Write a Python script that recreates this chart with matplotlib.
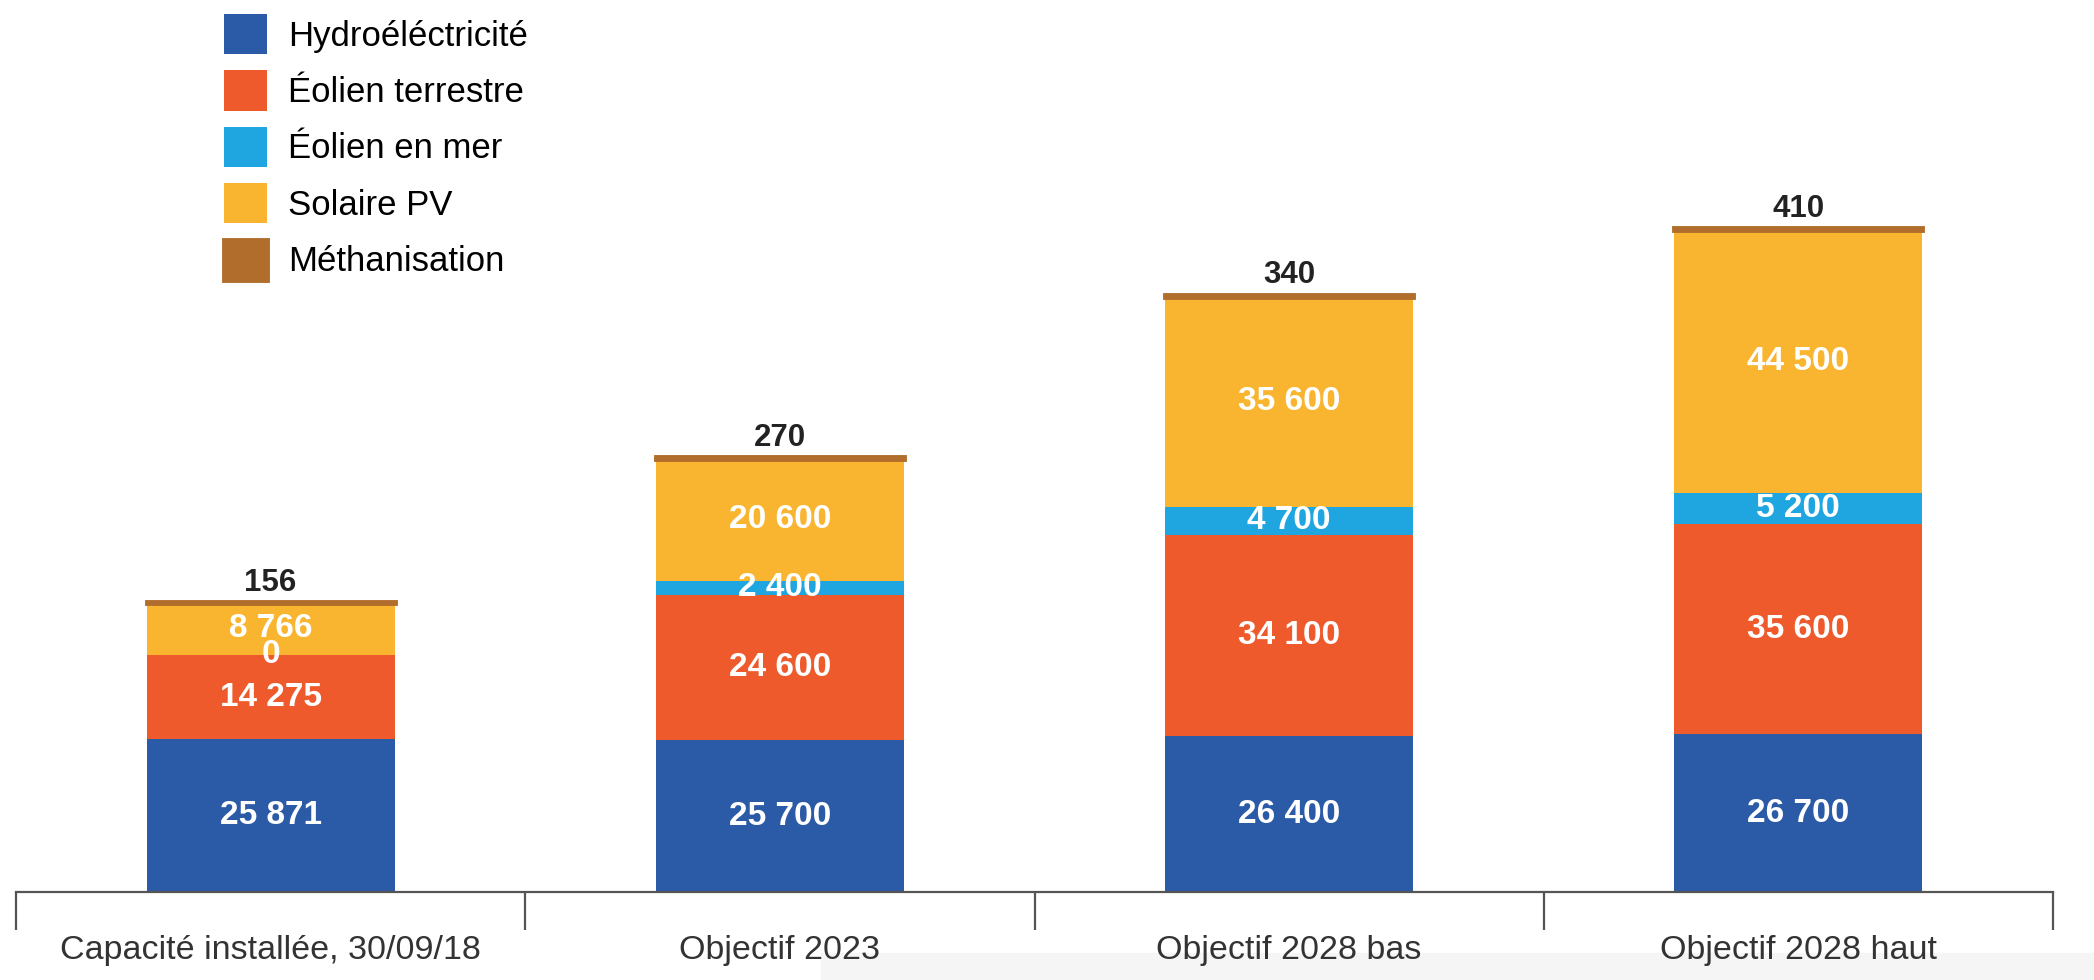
import matplotlib.pyplot as plt
import matplotlib.patches as mpatches
import numpy as np

plt.rcParams['font.family'] = ['Liberation Sans', 'DejaVu Sans']

# Data (MW)
categories = ["Capacité installée, 30/09/18", "Objectif 2023",
              "Objectif 2028 bas", "Objectif 2028 haut"]
hydro = [25871, 25700, 26400, 26700]
eolien_terre = [14275, 24600, 34100, 35600]
eolien_mer = [0, 2400, 4700, 5200]
solaire = [8766, 20600, 35600, 44500]
methanisation = [156, 270, 340, 410]

series = [
    ("Hydroéléctricité", hydro, "#2b5aa6"),
    ("Éolien terrestre", eolien_terre, "#ee5a2b"),
    ("Éolien en mer", eolien_mer, "#1fa5df"),
    ("Solaire PV", solaire, "#f9b530"),
    ("Méthanisation", methanisation, "#b06d2b"),
]


def fmt(v):
    return f"{v:,}".replace(",", " ")


W, H = 2094, 980
fig = plt.figure(figsize=(W / 100, H / 100), dpi=100)
ax = fig.add_axes([16 / W, (H - 892) / H, (2053 - 16) / W, 892 / H])

x = np.arange(len(categories))
bottom = np.zeros(len(categories))
for name, vals, color in series:
    vals = np.array(vals, dtype=float)
    is_meth = name == "Méthanisation"
    ax.bar(x, vals, 0.487, bottom=bottom, color=color, label=name,
           edgecolor=color if is_meth else "none",
           linewidth=3.5 if is_meth else 0, zorder=2)
    if not is_meth:
        for xi, b, v in zip(x, bottom, vals):
            ax.text(xi, b + v / 2, fmt(int(v)), ha="center", va="center",
                    color="white", fontsize=24, fontweight="bold", zorder=3)
    bottom += vals

# value of methanisation written above each bar
for xi, top, v in zip(x, bottom, methanisation):
    ax.annotate(fmt(v), (xi, top), xytext=(0, 14), textcoords="offset points",
                ha="center", va="center", fontsize=22.5, fontweight="bold",
                color="#222222")

ax.set_xlim(-0.5, 3.5)
ax.set_ylim(0, 151000)

for s in ["top", "left", "right"]:
    ax.spines[s].set_visible(False)
ax.spines["bottom"].set_color("#555555")
ax.spines["bottom"].set_linewidth(1.6)
ax.spines["bottom"].set_zorder(4)
ax.set_yticks([])

ax.set_xticks(np.arange(-0.5, 4.0, 1.0))
ax.set_xticklabels([])
ax.tick_params(axis="x", which="major", direction="out", length=27,
               width=1.6, color="#555555")
ax.set_xticks(x, minor=True)
ax.set_xticklabels(categories, minor=True)
ax.tick_params(axis="x", which="minor", length=0, pad=31,
               labelsize=24.5, labelcolor="#333333")
for t in ax.get_xticklabels(minor=True):
    t.set_va("top")

ax.legend(loc="upper left", bbox_to_anchor=(224 / W, 1 - 14 / H),
          bbox_transform=fig.transFigure, frameon=False, fontsize=25,
          handlelength=1.24, handleheight=1.4, handletextpad=0.6,
          labelspacing=0.47, borderpad=0, borderaxespad=0)

# light grey strip at the bottom of the screenshot
fig.patches.append(mpatches.Rectangle((821 / W, 0), 1 - 821 / W, 27 / H,
                                      transform=fig.transFigure,
                                      color="#f5f5f5", zorder=-1))

fig.savefig("out.png", dpi=100)
